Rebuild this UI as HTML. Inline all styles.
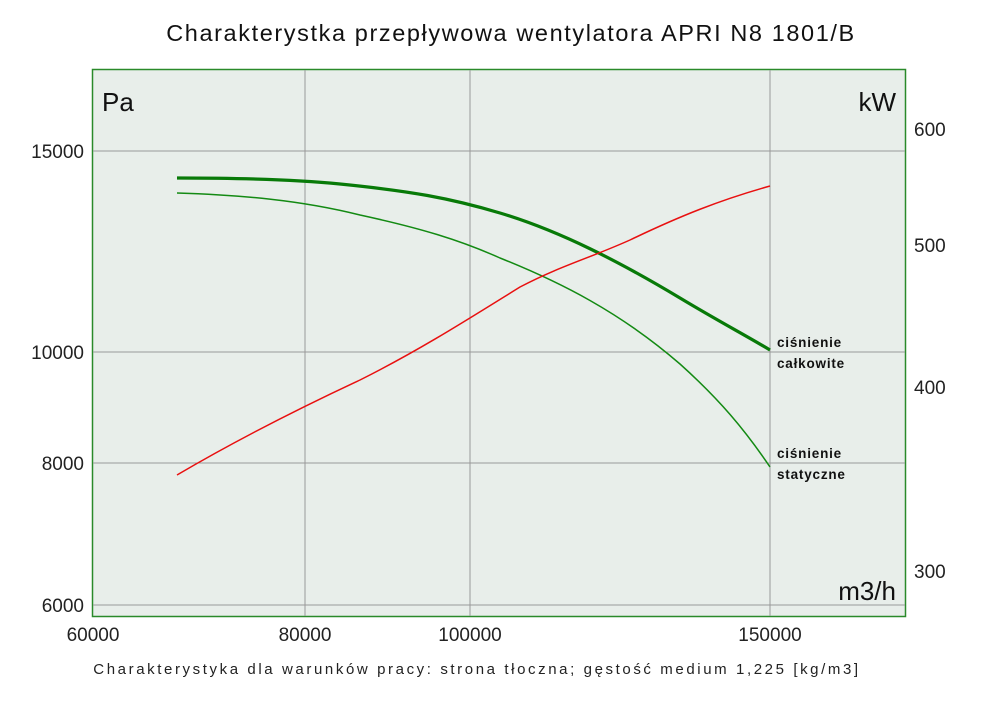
<!DOCTYPE html>
<html><head><meta charset="utf-8"><style>
body{margin:0;background:#fff;width:1000px;height:706px;overflow:hidden}
text{font-family:"Liberation Sans","DejaVu Sans",sans-serif}
</style></head><body>
<svg width="1000" height="706" viewBox="0 0 1000 706">
<text x="511" y="41" font-size="23.5" text-anchor="middle" fill="#111" letter-spacing="1.6">Charakterystka przepływowa wentylatora APRI N8 1801/B</text>
<rect x="92.5" y="69.5" width="813" height="547" fill="#e8eeea" stroke="#2a8a2a" stroke-width="1.5"/>
<g stroke="#999" stroke-width="1">
<line x1="93" y1="151" x2="905" y2="151"/><line x1="93" y1="352" x2="905" y2="352"/>
<line x1="93" y1="463" x2="905" y2="463"/><line x1="93" y1="605" x2="905" y2="605"/>
<line x1="305" y1="70" x2="305" y2="616"/><line x1="470" y1="70" x2="470" y2="616"/>
<line x1="770" y1="70" x2="770" y2="616"/>
</g>
<text x="102" y="111" font-size="26" fill="#111">Pa</text>
<text x="896" y="111" font-size="26" fill="#111" text-anchor="end">kW</text>
<text x="896" y="600" font-size="26" fill="#111" text-anchor="end">m3/h</text>
<g font-size="19" fill="#222" text-anchor="end">
<text x="84" y="158">15000</text><text x="84" y="359">10000</text>
<text x="84" y="470">8000</text><text x="84" y="612">6000</text>
</g>
<g font-size="19" fill="#222">
<text x="914" y="136">600</text><text x="914" y="252">500</text>
<text x="914" y="394">400</text><text x="914" y="578">300</text>
</g>
<g font-size="19" fill="#222" text-anchor="middle">
<text x="93" y="641">60000</text><text x="305" y="641">80000</text>
<text x="470" y="641">100000</text><text x="770" y="641">150000</text>
</g>
<path d="M177,178 C240,178 300,180 340,184 C410,191 450,198 500,213 C560,231 620,262 680,298 C720,322 745,335 770,350" fill="none" stroke="#087a08" stroke-width="3.2"/>
<path d="M177,193 C240,195 300,200 360,215 C420,228 460,240 500,258 C560,282 620,312 680,364 C720,400 745,430 770,467" fill="none" stroke="#138a13" stroke-width="1.5"/>
<path d="M177,475 C240,438 300,408 360,380 C420,350 470,318 520,287 C560,266 590,258 630,240 C680,216 720,200 770,186" fill="none" stroke="#e81010" stroke-width="1.5"/>
<g font-size="13.5" fill="#111" font-weight="bold" letter-spacing="0.8">
<text x="777" y="347">ciśnienie</text><text x="777" y="368">całkowite</text>
<text x="777" y="458">ciśnienie</text><text x="777" y="479">statyczne</text>
</g>
<text x="477" y="674" font-size="15" fill="#222" text-anchor="middle" letter-spacing="2.6">Charakterystyka dla warunków pracy: strona tłoczna; gęstość medium 1,225 [kg/m3]</text>
</svg>
</body></html>
